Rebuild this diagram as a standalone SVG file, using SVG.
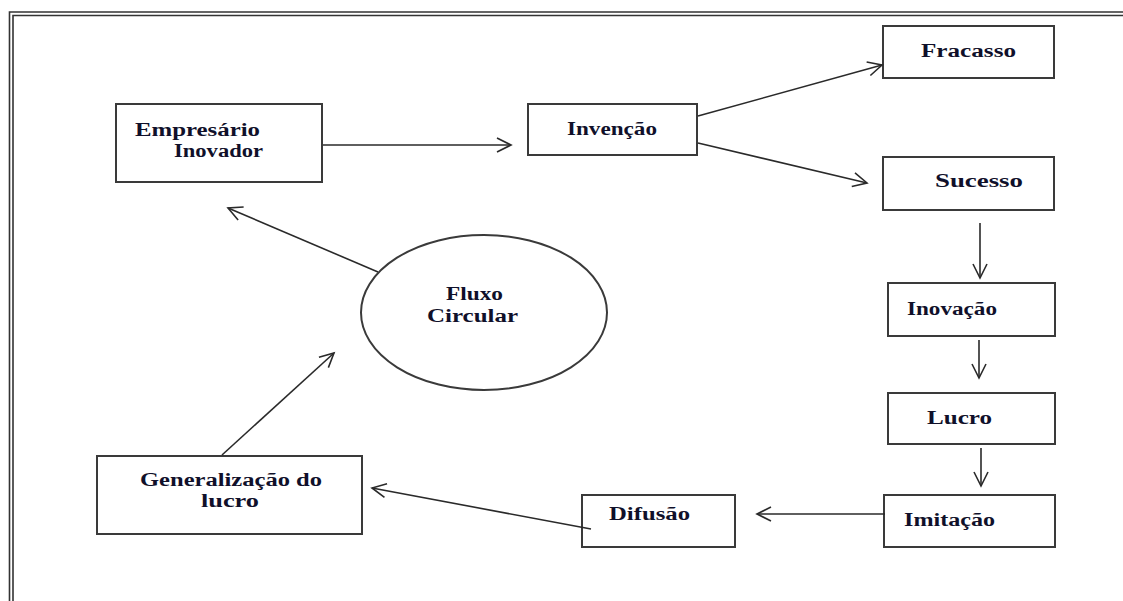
<svg xmlns="http://www.w3.org/2000/svg" width="1123" height="601" viewBox="0 0 1123 601">
<defs>
<marker id="arr" markerUnits="userSpaceOnUse" markerWidth="20" markerHeight="20" refX="0" refY="0" viewBox="-16 -10 20 20" orient="auto">
<path d="M-14,-7 L0,0 L-14,7" fill="none" stroke="#2a2a2a" stroke-width="1.6"/>
</marker>
</defs>
<style>
.box{fill:#fff;stroke:#3a3a3a;stroke-width:2}
.lbl{font-family:"Liberation Serif","Times New Roman",serif;font-weight:bold;font-size:18.5px;fill:#10102a}
.con{stroke:#2a2a2a;stroke-width:1.6;fill:none;marker-end:url(#arr)}
.frame{stroke:#333;stroke-width:1.6;fill:none}
</style>
<rect width="1123" height="601" fill="#fff"/>
<g id="frame">
<path class="frame" d="M9.5,601 V12 H1123"/>
<path class="frame" d="M13,601 V15.5 H1123"/>
</g>
<g id="empresario">
<rect class="box" x="116" y="104" width="206" height="78"/>
<text class="lbl" x="135" y="136" textLength="125" lengthAdjust="spacingAndGlyphs">Empresário</text>
<text class="lbl" x="174" y="157" textLength="89" lengthAdjust="spacingAndGlyphs">Inovador</text>
</g>
<g id="invencao">
<rect class="box" x="528" y="104" width="169" height="51"/>
<text class="lbl" x="567" y="135" textLength="90" lengthAdjust="spacingAndGlyphs">Invenção</text>
</g>
<g id="fracasso">
<rect class="box" x="883" y="26" width="171" height="52"/>
<text class="lbl" x="921" y="57" textLength="95" lengthAdjust="spacingAndGlyphs">Fracasso</text>
</g>
<g id="sucesso">
<rect class="box" x="883" y="157" width="171" height="53"/>
<text class="lbl" x="935" y="187" textLength="88" lengthAdjust="spacingAndGlyphs">Sucesso</text>
</g>
<g id="inovacao">
<rect class="box" x="888" y="283" width="167" height="53"/>
<text class="lbl" x="907" y="315" textLength="90" lengthAdjust="spacingAndGlyphs">Inovação</text>
</g>
<g id="lucro">
<rect class="box" x="888" y="393" width="167" height="51"/>
<text class="lbl" x="927" y="424" textLength="65" lengthAdjust="spacingAndGlyphs">Lucro</text>
</g>
<g id="imitacao">
<rect class="box" x="884" y="495" width="171" height="52"/>
<text class="lbl" x="904" y="526" textLength="91" lengthAdjust="spacingAndGlyphs">Imitação</text>
</g>
<g id="difusao">
<rect class="box" x="582" y="495" width="153" height="52"/>
<text class="lbl" x="609" y="520" textLength="81" lengthAdjust="spacingAndGlyphs">Difusão</text>
</g>
<g id="generalizacao">
<rect class="box" x="97" y="456" width="265" height="78"/>
<text class="lbl" x="140" y="486" textLength="182" lengthAdjust="spacingAndGlyphs">Generalização do</text>
<text class="lbl" x="201" y="507" textLength="58" lengthAdjust="spacingAndGlyphs">lucro</text>
</g>
<g id="fluxo">
<ellipse class="box" cx="484" cy="312.5" rx="123" ry="77.5"/>
<text class="lbl" x="446" y="300" textLength="57" lengthAdjust="spacingAndGlyphs">Fluxo</text>
<text class="lbl" x="427" y="322" textLength="91" lengthAdjust="spacingAndGlyphs">Circular</text>
</g>
<g id="connectors">
<line class="con" x1="323" y1="145" x2="511" y2="145"/>
<line class="con" x1="698" y1="116" x2="882" y2="65"/>
<line class="con" x1="698" y1="143" x2="867" y2="183"/>
<line class="con" x1="980" y1="223" x2="980" y2="278"/>
<line class="con" x1="979" y1="340" x2="979" y2="378"/>
<line class="con" x1="981" y1="448" x2="981" y2="486"/>
<line class="con" x1="885" y1="514" x2="757" y2="514"/>
<line class="con" x1="591" y1="529" x2="372" y2="488"/>
<line class="con" x1="222" y1="455" x2="334" y2="353"/>
<line class="con" x1="378" y1="272" x2="228" y2="208"/>
</g>
</svg>
